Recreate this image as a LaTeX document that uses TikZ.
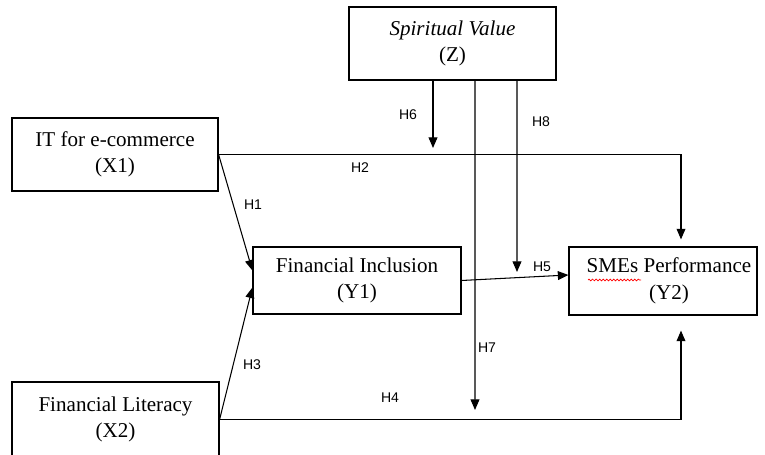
\documentclass[tikz,border=0pt]{standalone}
\usepackage{fontspec}
\setmainfont{Liberation Serif}
\setsansfont{Liberation Sans}
\usetikzlibrary{arrows.meta,calc,decorations.pathmorphing}

\begin{document}
\begin{tikzpicture}[x=0.02cm, y=-0.02cm,
    box/.style={draw, line width=0.7pt, align=center, inner sep=0pt,
      font=\fontsize{12}{15}\selectfont},
    hyp/.style={line width=0.6pt, -{Triangle[length=6pt,width=5pt]}},
    lab/.style={font=\sffamily\fontsize{8}{9}\selectfont, inner sep=0pt}]
    \useasboundingbox (0,0) rectangle (765,455);

    \node[box, minimum width=4.14cm, minimum height=1.46cm] (z) at (452.5,43.5)
    {\textit{Spiritual Value}\\(Z)};
    \node[box, minimum width=4.12cm, minimum height=1.46cm] (x1) at (115,154.5)
    {IT for e-commerce\\(X1)};
    \node[box, minimum width=4.16cm, minimum height=1.34cm] (y1) at (357,280.5)
    {Financial Inclusion\\(Y1)};
    \node[box, minimum width=3.76cm, minimum height=1.36cm] (y2) at (663,281)
    {\hspace*{0.24cm}SMEs Performance\\\hspace*{0.24cm}(Y2)};
    \node[box, minimum width=4.14cm, minimum height=1.5cm] (x2) at (115.5,419.5)
    {Financial Literacy\\(X2)};

    \draw[red, line width=0.4pt, decorate,
    decoration={snake, amplitude=0.5pt, segment length=2pt}]
    (588,280) -- (641,280);

    \coordinate (h6end) at (433,148);
    \coordinate (h7end) at (475,410);
    \coordinate (h8end) at (517,272);

    \draw[hyp] (x1.east) -- ($(y1.west)+(0,-10)$);
    \draw[hyp] (x2.east) -- ($(y1.west)+(0,7)$);
    \draw[hyp] (x1.east) -| ($(y2.north)+(18,-7)$);
    \draw[hyp] (x2.east) -| ($(y2.south)+(18,15)$);
    \draw[hyp] (y1.east) -- ($(y2.west)+(0,-6)$);

    \begin{scope}[hyp]
      \draw ($(z.south)+(-19.5,0)$) -- (h6end);
      \draw ($(z.south)+(22.5,0)$) -- (h7end);
      \draw ($(z.south)+(64.5,0)$) -- (h8end);
    \end{scope}

    \node[lab] (h1) at (253,205) {H1};
    \node[lab] (h2) at (360,168) {H2};
    \node[lab] (h3) at (252,365) {H3};
    \node[lab] (h4) at (390,398) {H4};
    \node[lab] (h5) at (542,267) {H5};
    \node[lab] (h6) at (408,115) {H6};
    \node[lab] (h7) at (487,348) {H7};
    \node[lab] (h8) at (541,122) {H8};

  \end{tikzpicture}
\end{document}
